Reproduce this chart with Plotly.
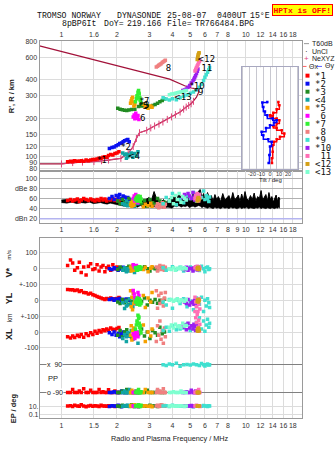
import math
import plotly.graph_objects as go

W, H = 335, 451

# ---------------- header text (segments, left edges in px) ----------------
TITLE1_SEG = ["TROMSO NORWAY", "DYNASONDE", "25-08-07", "0400UT", "15°E"]
TITLE1_X = [35, 115, 165, 215, 248]
TITLE2_SEG = ["8pBP6It", "DoY=", "219.166", "File=", "TR766484.BPG"]
TITLE2_X = [60, 102, 125, 165, 193]
WARN = "HPTx is OFF!"

# ---------------- tick labels ----------------
XT_TOP_V = [1, 1.5, 2, 3, 4, 5, 6, 7, 8, 10, 12, 14, 16, 18]
XT_TOP_T = ["1", "1.6", "2", "3", "4", "5", "6", "7", "8", "10", "12", "14", "16", "18"]
XT_MID_V = [1, 1.5, 2, 3, 4, 5, 6, 7, 8, 9, 10, 12, 14, 16, 18]
XT_MID_T = ["1", "1.6", "2", "3", "4", "5", "6", "7", "8", "9", "10", "12", "14", "16", "18"]
XT_BOT_V = [1, 1.5, 2, 3, 4, 5, 6, 7, 8, 10, 12, 14, 16, 18]
XT_BOT_T = ["1", "1.5", "2", "3", "4", "5", "6", "7", "8", "10", "12", "14", "16", "18"]
YT_H_V = [80, 90, 100, 120, 150, 200, 300, 400, 600, 800]
YT_H_T = ["80", "90", "100", "120", "150", "200", "300", "400", "600", "800"]
YT_DB_V = [20, 40, 60, 80, 100]
YT_DB_T = ["dBn 20", "40", "60", "dBe 80", "100"]
YT_V_V, YT_V_T = [100, 0, -100], ["100", "0", "+-100"]
YT_YL_V, YT_YL_T = [0, -100], ["0", "+-100"]
YT_XL_V, YT_XL_T = [0, -100], ["0", "-100"]
YT_PP_V = [90, -90]
YT_EP_V, YT_EP_T = [10, 0.1], ["10.", "0.1"]
TILT_V, TILT_T = [-20, -10, 0, 10, 20], ["-20", "-10", "0", "10", "20"]

# ---------------- echo clusters ----------------
NAMES = ["*1", "*2", "*3", "<4", "*5", "6", "*7", "8", "*9", "*10", "11", "<12", "<13"]
LEG_NAMES = ["*1", "*2", "*3", "<4", "*5", "\u00a06", "*7", "\u00a08", "*9", "*10", "\u00a011", "<12", "<13"]
COLORS = ["#ff0000", "#0a10f0", "#228b22", "#12a4a4", "#f5a000", "#ff00ff", "#33f033",
          "#f08080", "#40e0d0", "#9b1ff0", "#ff6eb4", "#d4a017", "#7fffd0"]

F1 = [1.08, 1.12, 1.15, 1.18, 1.22, 1.25, 1.28, 1.32, 1.36, 1.40, 1.44, 1.48, 1.52, 1.56, 1.60, 1.64, 1.68, 1.72, 1.76, 1.80, 1.85, 1.90, 1.95, 2.00, 2.05]
H1 = [91, 92, 91, 93, 92, 92, 93, 92, 94, 93, 94, 95, 95, 96, 97, 97, 99, 100, 99, 102, 104, 103, 106, 107, 109]
A1 = [56, 58, 55, 57, 59, 54, 57, 60, 58, 56, 59, 57, 55, 58, 56, 60, 57, 59, 55, 58, 57, 60, 56, 58, 55]
V1 = [20, 55, 35, -10, 5, 40, -25, 10, -40, 15, 30, -5, 0, 25, -15, 10, 20, -20, 5, 15, -10, 25, 0, 10, 5]
YL1 = [68, 66, 67, 62, 65, 55, 60, 50, 48, 40, 45, 35, 30, 25, 20, 15, 10, 5, 12, 8, 15, 5, 10, 12, 18]
XL1 = [-30, -38, -25, -35, -20, -28, -15, -32, -10, -22, -5, -15, 5, -8, 10, 0, 15, 8, 20, 12, 25, 18, 15, 22, 28]
PP1 = [-90, -90, -70, -90, -90, -80, -90, -65, -90, -90, -75, -90, -90, -90, -70, -90, -85, -90, -90, -72, -90, -90, -80, -90, -90]
EP1 = [10, 12, 8, 15, 10, 9, 20, 11, 7, 10, 14, 9, 12, 10, 8, 16, 10, 11, 9, 13, 10, 12, 8, 10, 11]

F2 = [1.82, 1.88, 1.93, 1.98, 2.03, 2.07, 2.12, 2.16, 2.20, 2.25, 2.29, 2.33]
H2 = [116, 118, 119, 122, 124, 127, 128, 131, 133, 135, 136, 131]
A2 = [60, 64, 58, 66, 62, 68, 60, 65, 63, 59, 62, 57]
V2 = [0, -5, 5, 0, -10, 2, -3, 8, 0, -5, 3, 0]
YL2 = [5, 10, 0, 8, 3, 12, 0, 5, -5, 8, 2, 0]
XL2 = [-5, -15, 0, -20, -8, -30, -10, 0, -18, -5, -12, -25]
PP2 = [-90, -90, -85, -90, -90, -90, -80, -90, -90, -90, -90, -85]
EP2 = [8, 12, 10, 9, 15, 10, 7, 11, 13, 9, 10, 12]

F3 = [2.02, 2.08, 2.14, 2.20, 2.26, 2.32, 2.40, 2.50, 2.62, 2.72, 2.82, 2.92, 3.02, 3.12, 3.22, 3.32, 3.42, 3.52, 3.62]
H3 = [240, 236, 233, 231, 230, 232, 234, 236, 248, 250, 251, 252, 246, 252, 257, 262, 270, 276, 284]
A3 = [55, 50, 58, 52, 48, 60, 54, 47, 62, 50, 56, 45, 58, 52, 49, 60, 55, 47, 53]
V3 = [-5, 10, 0, -8, 5, 15, -10, 0, 8, -3, 12, 0, -15, 5, 0, -8, 10, 3, -5]
YL3 = [-10, -20, 5, -15, 0, -25, -5, 10, -20, -8, 15, -30, 0, -12, 5, -18, 0, -10, 8]
XL3 = [-20, 10, -30, 0, 15, -10, -35, 5, -15, 20, -25, 0, -40, 10, -5, -20, 30, -10, 0]
PP3 = [-90, -90, -80, -90, -70, -90, -90, -90, -85, -90, -90, -75, -90, -90, -90, -80, -90, -90, -90]
EP3 = [10, 8, 15, 11, 9, 12, 20, 10, 7, 13, 10, 9, 16, 10, 12, 8, 11, 14, 10]

F4 = [2.15, 2.20, 2.25, 2.29, 2.34, 2.39, 2.44, 2.49, 2.55, 2.60, 2.25]
H4 = [107, 104, 105, 100, 103, 107, 99, 106, 101, 109, 97]
A4 = [50, 48, 55, 46, 52, 49, 57, 45, 53, 50, 47]
V4 = [-10, 5, -20, 0, -15, 10, -5, -25, 0, 8, -12]
YL4 = [-15, -52, -5, -30, 10, -20, -40, 0, -10, -25, -35]
XL4 = [-40, -15, -60, -5, -25, 10, -45, -20, 0, -70, -30]
PP4 = [-90, -80, -90, -90, -70, -90, -90, -85, -90, -90, -90]
EP4 = [9, 12, 10, 15, 8, 10, 11, 7, 12, 10, 14]

F5 = [2.37, 2.39, 2.41, 2.43, 2.45, 2.47, 2.50, 2.78, 2.85, 2.95, 3.05, 3.10]
H5 = [262, 275, 285, 293, 268, 250, 255, 258, 246, 240, 250, 244]
A5 = [48, 52, 45, 55, 50, 47, 53, 44, 49, 46, 51, 45]
V5 = [10, -15, 5, 20, -10, 0, 15, -5, 8, -20, 3, 12]
YL5 = [60, -40, 20, -60, 45, -20, 0, 30, -45, 15, -10, 50]
XL5 = [-20, 40, -50, 10, -35, 25, -10, 45, -60, 0, -25, 20]
PP5 = [-90, -90, -75, -90, -90, -85, -90, -90, -70, -90, -90, -90]
EP5 = [12, 9, 15, 10, 8, 11, 20, 10, 13, 9, 11, 7]

F6 = [2.45, 2.48, 2.50, 2.53, 2.55, 2.58, 2.60, 2.63]
H6 = [205, 212, 198, 219, 207, 200, 210, 196]
A6 = [60, 65, 55, 68, 58, 62, 52, 57]
V6 = [25, 10, 5, 15, 20, 8, 12, 0]
YL6 = [62, 40, 20, 0, -21, 10, 50, 30]
XL6 = [-10, -20, -40, -5, -25, -15, -30, 0]
PP6 = [-90, -90, -90, -80, -90, -90, -90, -90]
EP6 = [10, 12, 9, 11, 10, 8, 13, 10]

F7 = [2.52, 2.55, 2.57, 2.60, 2.62, 2.64, 2.66, 2.68, 2.70, 2.58, 2.63, 2.67]
H7 = [270, 285, 300, 320, 330, 310, 290, 275, 262, 295, 315, 280]
A7 = [58, 62, 55, 65, 60, 57, 63, 54, 59, 61, 56, 64]
V7 = [5, 0, -10, 8, -5, 12, 0, -3, 6, -8, 2, 10]
YL7 = [-10, 5, -25, 0, -15, 10, -30, -5, -20, 15, -8, 0]
XL7 = [20, 45, 70, 106, 85, 55, 30, 10, -6, 60, 95, 40]
PP7 = [-90, -80, -90, -90, -70, -90, -90, -90, -85, -90, -90, -90]
EP7 = [10, 14, 9, 12, 20, 10, 11, 8, 15, 10, 13, 9]

F8 = [3.27, 3.32, 3.37, 3.42, 3.47, 3.52, 3.57, 3.62, 3.66]
H8 = [506, 512, 522, 530, 536, 548, 556, 563, 570]
A8 = [45, 50, 42, 48, 44, 52, 46, 43, 49]
V8 = [10, -15, 5, 20, -5, 0, 15, -10, 8]
YL8 = [60, -50, 30, -20, 45, 0, -35, 15, 50]
XL8 = [-60, 40, -20, 70, -45, 10, -70, 25, -30]
PP8 = [-90, -70, -90, -80, -90, -90, -65, -90, -90]
EP8 = [10, 15, 8, 12, 20, 9, 11, 14, 10]

F9 = [3.56, 3.70, 3.85, 4.00, 4.20, 4.40, 4.60, 4.80, 5.00, 5.20, 5.40, 5.60, 5.75, 5.90, 6.00, 6.10, 6.20, 6.30, 6.36]
H9 = [290, 283, 278, 285, 280, 290, 298, 305, 315, 322, 335, 350, 370, 396, 420, 440, 459, 480, 502]
A9 = [50, 62, 55, 70, 48, 58, 52, 65, 60, 72, 55, 68, 62, 75, 58, 66, 60, 54, 63]
V9 = [5, -10, 0, 12, -5, 8, -15, 0, 10, -8, 3, -12, 15, 0, -20, 5, 10, -5, 0]
YL9 = [-10, -30, 5, -50, 0, -20, 10, -40, -5, -60, 15, -25, 20, -70, 0, -35, 10, -15, -45]
XL9 = [10, 30, 5, 40, 15, 20, 25, 50, 10, 35, 60, 90, 20, 70, 5, 45, 80, 30, 55]
PP9 = [90, 85, 95, 90, 100, 80, 90, 92, 88, 95, 90, 85, 98, 90, 82, 90, 95, 88, 90]
EP9 = [10, 12, 8, 15, 10, 9, 11, 13, 10, 7, 12, 10, 9, 14, 10, 11, 8, 12, 10]

F10 = [4.55, 4.65, 4.76, 4.86, 4.96, 5.06, 5.17, 5.23, 5.28, 5.34, 5.40, 5.46, 5.50]
H10 = [330, 334, 340, 350, 362, 378, 395, 405, 419, 432, 450, 468, 487]
A10 = [62, 68, 58, 70, 65, 60, 72, 63, 57, 67, 61, 69, 64]
V10 = [0, -5, 8, -10, 3, 0, -15, 5, -3, 10, 0, -8, 2]
YL10 = [0, -10, -20, 5, -30, -15, -5, -25, 0, -12, -35, -8, -20]
XL10 = [30, 45, 15, 55, 25, 40, 20, 50, 35, 10, 45, 30, 25]
PP10 = [-90, -90, -85, -90, -90, -75, -90, -90, -90, -80, -90, -90, -90]
EP10 = [10, 12, 9, 11, 10, 14, 8, 10, 12, 10, 9, 11, 13]

F11 = [5.30, 5.35, 5.40, 5.45, 5.50, 5.55, 5.60, 5.63]
H11 = [470, 485, 500, 515, 530, 545, 560, 570]
A11 = [60, 66, 58, 70, 63, 55, 68, 61]
V11 = [5, 10, 0, 15, 8, -5, 12, 3]
YL11 = [20, -10, -40, 0, -70, -25, 10, -55]
XL11 = [130, 90, 60, 110, 30, 75, 5, 50]
PP11 = [-90, -90, -80, -90, -90, -70, -90, -90]
EP11 = [10, 12, 15, 9, 11, 10, 13, 8]

F12 = [5.45, 5.48, 5.50, 5.52, 5.55, 5.58]
H12 = [580, 600, 615, 630, 645, 655]
A12 = [55, 60, 58, 62, 57, 59]
V12 = [0, 5, -3, 8, 2, -5]
YL12 = [-5, 0, -10, 5, -8, 0]
XL12 = [10, 20, 5, 15, 25, 10]
PP12 = [-90, -90, -90, -90, -90, -90]
EP12 = [10, 11, 9, 10, 12, 10]

F13 = [3.85, 3.95, 4.05, 4.15, 4.25, 4.35, 4.45, 4.55, 4.65, 4.75]
H13 = [306, 310, 312, 315, 318, 320, 322, 325, 327, 330]
A13 = [55, 62, 50, 66, 58, 70, 53, 64, 60, 57]
V13 = [0, -5, 5, -10, 3, 0, 8, -3, 5, 0]
YL13 = [0, 5, -5, 0, 10, -8, 3, 0, -5, 5]
XL13 = [30, 45, 25, 50, 35, 40, 28, 55, 38, 42]
PP13 = [-90, -90, -85, -90, -90, -90, -80, -90, -90, -90]
EP13 = [10, 12, 10, 9, 11, 10, 13, 10, 8, 10]

# trace labels on the ionogram
LBL_T = ["*1", "*2", "<4", "6", "*7", "*3", "*5", "8", "*10", "*9", "<13", "11", "<12"]
LBL_F = [1.66, 2.24, 2.47, 2.76, 2.82, 2.82, 2.78, 3.80, 5.45, 5.55, 4.55, 6.15, 6.10]
LBL_H = [92, 117, 99, 199, 270, 252, 246, 487, 355, 315, 288, 490, 580]

# electron-density profile and NeXYZ points
PROF_F = [0.76, 1.0, 1.15, 1.5, 1.8, 2.1, 2.3, 2.45, 2.55, 2.65, 2.9, 3.2, 3.55, 3.95, 4.4, 4.75, 5.05, 5.4, 5.55, 5.52, 5.4, 5.07, 4.66, 3.86, 2.5, 1.5, 0.76]
PROF_H = [87.7, 87.7, 89.8, 91.4, 94, 97, 106, 120, 139, 154, 161, 174, 187, 205, 224, 245, 260, 293, 320, 335, 340, 346, 360, 406, 477, 576, 740]
NE_F = [1.0, 1.15, 1.3, 1.5, 1.65, 1.8, 2.1, 2.3, 2.45, 2.55, 2.65, 2.9, 3.05, 3.2, 3.38, 3.55, 3.75, 3.95, 4.15, 4.4, 4.6, 4.75, 4.9, 5.05, 5.2]
NE_H = [87.7, 89.8, 90.5, 91.4, 92.8, 94, 97, 106, 120, 139, 154, 161, 168, 174, 180, 187, 196, 205, 214, 224, 236, 245, 252, 260, 272]

# tilt profiles (inset)
TX_DEG = [9.3, 10.4, 7.4, 3.7, 0.0, 3.0, 7.4, 10.4, 7.4, 3.7, 7.4, 13.0, 15.9, 11.1, 7.4, 4.4, 3.0, 3.0, 2.2, 2.2]
TX_H = [268, 253, 235, 221, 211, 205, 199, 193, 182, 174, 168, 161, 152, 143, 137, 131, 123, 109, 97, 89]
TY_DEG = [-3.0, -8.5, -7.4, -5.6, -3.0, 3.0, 7.4, 4.4, 0.0, -4.4, -9.3, -7.4, -1.9, 1.9, 0.0, -0.7, -1.5]
TY_H = [268, 266, 245, 226, 211, 199, 193, 185, 176, 168, 157, 147, 137, 131, 120, 103, 89]

# echo amplitude band (black)
BF = [1.00, 1.07, 1.14, 1.21, 1.28, 1.35, 1.42, 1.49, 1.56, 1.63, 1.70, 1.77, 1.84, 1.91, 1.98,
      2.08, 2.18, 2.28, 2.38, 2.48, 2.58, 2.68, 2.78, 2.88, 2.98, 3.08, 3.18, 3.28, 3.38, 3.48,
      3.58, 3.68, 3.78, 3.88, 3.98,
      4.10, 4.22, 4.34, 4.46, 4.58, 4.70, 4.82, 4.94, 5.06, 5.18, 5.30, 5.42, 5.54, 5.66, 5.78,
      5.90, 6.05, 6.20, 6.35, 6.50, 6.65, 6.80, 6.95, 7.10, 7.30, 7.50, 7.70, 7.90, 8.10, 8.30,
      8.50, 8.70, 8.90, 9.10, 9.30, 9.50, 9.70, 9.90, 10.1, 10.35, 10.6, 10.85, 11.1, 11.35, 11.6,
      11.85, 12.1, 12.35, 12.6, 12.85, 13.1, 13.35, 13.6, 13.85, 14.1, 14.35, 14.6, 14.85, 15.1, 15.3]
BU = [57, 58, 56, 59, 57, 58, 55, 59, 57, 56, 58, 55, 57, 56, 58,
      55, 57, 54, 58, 52, 56, 60, 55, 58, 62, 57, 74, 60, 56, 54,
      58, 52, 56, 60, 57,
      65, 58, 70, 60, 66, 57, 68, 62, 59, 71, 63, 58, 75, 78, 62,
      70, 56, 72, 60, 66, 55, 68, 58, 64, 54, 70, 57, 62, 66, 55,
      72, 58, 61, 67, 54, 69, 57, 74, 60, 56, 66, 58, 71, 55, 64,
      60, 76, 57, 62, 68, 55, 72, 58, 64, 53, 60, 67, 55, 63, 58]
BL = [52, 51, 53, 50, 52, 51, 53, 50, 51, 52, 50, 49, 51, 50, 48,
      47, 45, 46, 44, 45, 43, 46, 44, 42, 45, 43, 44, 42, 44, 43,
      41, 42, 43, 42, 41,
      45, 44, 46, 43, 45, 44, 46, 42, 44, 45, 43, 44, 46, 45, 42,
      44, 43, 41, 43, 42, 40, 43, 41, 42, 40, 43, 41, 42, 40, 43,
      41, 42, 40, 41, 43, 40, 42, 41, 43, 40, 42, 41, 40, 42, 41,
      43, 40, 42, 41, 40, 42, 41, 40, 42, 41, 40, 42, 41, 43, 41]
NOISE_DB = 20

CLUSTERS = [
    (F1, H1, A1, V1, YL1, XL1, PP1, EP1), (F2, H2, A2, V2, YL2, XL2, PP2, EP2),
    (F3, H3, A3, V3, YL3, XL3, PP3, EP3), (F4, H4, A4, V4, YL4, XL4, PP4, EP4),
    (F5, H5, A5, V5, YL5, XL5, PP5, EP5), (F6, H6, A6, V6, YL6, XL6, PP6, EP6),
    (F7, H7, A7, V7, YL7, XL7, PP7, EP7), (F8, H8, A8, V8, YL8, XL8, PP8, EP8),
    (F9, H9, A9, V9, YL9, XL9, PP9, EP9), (F10, H10, A10, V10, YL10, XL10, PP10, EP10),
    (F11, H11, A11, V11, YL11, XL11, PP11, EP11), (F12, H12, A12, V12, YL12, XL12, PP12, EP12),
    (F13, H13, A13, V13, YL13, XL13, PP13, EP13),
]

# ---------------- geometry helpers (pixels -> paper) ----------------
def px_x(p):
    return p / W


def px_y(p):
    return 1 - p / H


FR_L, FR_R = 39.5, 301.7
X_DOM = [px_x(FR_L), px_x(FR_R)]
GRID = "#dcdcdc"
FRAME = "#9a9a9a"
TICKF = dict(family="Liberation Sans", size=7, color="#333")

fig = go.Figure()

# --- ionogram panel ---
fig.add_trace(go.Scatter(x=PROF_F, y=PROF_H, mode="lines", line=dict(color="#a3123a", width=1.2),
                         xaxis="x", yaxis="y", hoverinfo="skip"))
fig.add_trace(go.Scatter(x=NE_F, y=NE_H, mode="lines+markers", line=dict(color="#e0457b", width=1),
                         marker=dict(symbol="line-ns-open", size=5, line=dict(color="#e0457b", width=1)),
                         xaxis="x", yaxis="y", hoverinfo="skip"))

# --- amplitude band ---
fig.add_trace(go.Scatter(x=BF, y=BL, mode="lines", line=dict(color="black", width=0.5),
                         xaxis="x2", yaxis="y2", hoverinfo="skip"))
fig.add_trace(go.Scatter(x=BF, y=BU, mode="lines", line=dict(color="black", width=1),
                         fill="tonexty", fillcolor="black", xaxis="x2", yaxis="y2", hoverinfo="skip"))

for i, (f, h, a, v, yl, xl, pp, ep) in enumerate(CLUSTERS):
    mk = dict(symbol="square", size=3.5, color=COLORS[i], line=dict(width=0))
    for yy, ax in ((h, ("x", "y")), (a, ("x2", "y2")), (v, ("x3", "y3")), (yl, ("x3", "y4")),
                   (xl, ("x3", "y5")), (pp, ("x3", "y6")), (ep, ("x3", "y7"))):
        fig.add_trace(go.Scatter(x=f, y=yy, mode="markers", marker=mk,
                                 xaxis=ax[0], yaxis=ax[1], hoverinfo="skip"))

fig.add_trace(go.Scatter(x=LBL_F, y=LBL_H, mode="text", text=LBL_T,
                         textfont=dict(family="DejaVu Sans", size=8.5, color="black"),
                         xaxis="x", yaxis="y", hoverinfo="skip"))

# --- tilt inset ---
fig.add_trace(go.Scatter(x=TX_DEG, y=TX_H, mode="lines+markers", line=dict(color="#ff0000", width=1.5, shape="vh"),
                         marker=dict(symbol="square", size=2.5, color="#ff0000"),
                         xaxis="x4", yaxis="y8", hoverinfo="skip"))
fig.add_trace(go.Scatter(x=TY_DEG, y=TY_H, mode="lines+markers", line=dict(color="#0000ff", width=1.5, shape="vh"),
                         marker=dict(symbol="square", size=2.5, color="#0000ff"),
                         xaxis="x4", yaxis="y8", hoverinfo="skip"))

logr = [math.log10(0.76), math.log10(20.1)]
xcommon = dict(type="log", range=logr, domain=X_DOM, showgrid=True, gridcolor=GRID, gridwidth=1,
               showline=True, linecolor=FRAME, mirror=True, ticks="", tickfont=TICKF,
               zeroline=False, tickmode="array", tickangle=0)
ycommon = dict(showgrid=True, gridcolor=GRID, showline=True, linecolor=FRAME, mirror=True,
               ticks="", tickfont=TICKF, zeroline=False, tickmode="array", tickangle=0)

LOW_DOM = [px_y(419), px_y(237)]
fig.update_layout(
    width=W, height=H, autosize=False, showlegend=False,
    margin=dict(l=0, r=0, t=0, b=0), paper_bgcolor="white", plot_bgcolor="white",
    xaxis=dict(xcommon, anchor="y", side="top", tickvals=XT_TOP_V, ticktext=XT_TOP_T),
    yaxis=dict(ycommon, type="log", domain=[px_y(170), px_y(38)], range=[1.8833, 2.9105],
               anchor="x", tickvals=YT_H_V, ticktext=YT_H_T),
    xaxis2=dict(xcommon, anchor="y2", side="bottom", tickvals=XT_MID_V, ticktext=XT_MID_T),
    yaxis2=dict(ycommon, domain=[px_y(222), px_y(170)], range=[11.55, 113.76], anchor="x2",
                tickvals=YT_DB_V, ticktext=YT_DB_T, gridcolor="#b0b0b0"),
    xaxis3=dict(xcommon, anchor="y3", side="bottom", tickvals=XT_BOT_V, ticktext=XT_BOT_T),
    yaxis3=dict(ycommon, domain=LOW_DOM, range=[-943.75, 193.75], anchor="x3",
                tickvals=YT_V_V, ticktext=YT_V_T),
    yaxis4=dict(ycommon, overlaying="y3", anchor="x3", side="left", range=[-743.75, 393.75],
                tickvals=YT_YL_V, ticktext=YT_YL_T, showline=False),
    yaxis5=dict(ycommon, overlaying="y3", anchor="x3", side="left", range=[-543.75, 593.75],
                tickvals=YT_XL_V, ticktext=YT_XL_T, showline=False),
    yaxis6=dict(ycommon, overlaying="y3", anchor="x3", side="left", range=[-257.1, 912.9],
                tickvals=YT_PP_V, showticklabels=False, gridcolor="#808080", showline=False),
    yaxis7=dict(ycommon, overlaying="y3", anchor="x3", side="left", type="log", range=[-1.964, 41.89],
                tickvals=YT_EP_V, ticktext=YT_EP_T, showline=False),
    xaxis4=dict(domain=[px_x(241.7), px_x(298.3)], range=[-31.4, 31.4], anchor="y8",
                tickmode="array", tickvals=TILT_V, ticktext=TILT_T, showgrid=False, tickangle=0,
                minor=dict(dtick=7.5, tick0=0, showgrid=True, gridcolor="#c8c8d0"),
                showline=True, linecolor="#a8a8c0", mirror=True, ticks="",
                tickfont=dict(family="Liberation Sans", size=5.5, color="#333"), zeroline=False),
    yaxis8=dict(type="log", domain=[px_y(167), px_y(65)], range=[1.9066, 2.7004], anchor="x4",
                showticklabels=False, showgrid=False, showline=True, linecolor="#a8a8c0",
                mirror=True, ticks="", zeroline=False),
)

shapes = [dict(type="line", xref="paper", yref="y2", x0=X_DOM[0], x1=X_DOM[1], y0=NOISE_DB, y1=NOISE_DB,
               line=dict(color="#b4b4f0", width=1.5))]
ann = []


def txt(x, y, s, size=7, color="#222", family="Liberation Sans", xanchor="center", angle=0, bg=None, bold=False):
    d = dict(x=px_x(x), y=px_y(y), xref="paper", yref="paper", text=("<b>%s</b>" % s) if bold else s,
             showarrow=False, xanchor=xanchor, yanchor="middle", textangle=angle,
             font=dict(family=family, size=size, color=color))
    if bg:
        d.update(bgcolor=bg, borderpad=0)
    ann.append(d)


for s, x0 in zip(TITLE1_SEG, TITLE1_X):
    txt(x0, 12.5, s, size=8.2, color="#111", family="Liberation Mono", xanchor="left")
for s, x0 in zip(TITLE2_SEG, TITLE2_X):
    txt(x0, 20.5, s, size=8.2, color="#111", family="Liberation Mono", xanchor="left")
ann.append(dict(x=px_x(302.5), y=px_y(7.5), xref="paper", yref="paper", text="<b>%s</b>" % WARN,
                showarrow=False, xanchor="center", yanchor="middle",
                font=dict(family="Liberation Mono", size=8, color="#ff0000"),
                bgcolor="#ffff00", bordercolor="#ff0000", borderwidth=1, borderpad=0.5))

txt(11, 94, "R', R / km", size=7.5, angle=-90, bold=True)
txt(9, 272, "V*", size=9, angle=-90, bold=True)
txt(9, 254, "m/s", size=6, angle=-90)
txt(9, 298, "YL", size=9, angle=-90, bold=True)
txt(9, 318, "km", size=6.5, angle=-90)
txt(9, 334, "XL", size=9, angle=-90, bold=True)
txt(13, 409, "EP / deg", size=7.5, angle=-90, bold=True)
txt(46, 379, "PP", size=7.5, xanchor="left")
txt(46, 365, "x  90", size=7, xanchor="left", bg="white")
txt(46, 393, "o -90", size=7, xanchor="left", bg="white")
txt(170, 439, "Radio and Plasma Frequency / MHz", size=7.3)
txt(270, 178.5, "Tilt / deg", size=6)

# legend
LX = 304
shapes.append(dict(type="line", xref="paper", yref="paper", x0=px_x(LX), x1=px_x(LX + 5),
                   y0=px_y(41), y1=px_y(41), line=dict(color="#999", width=1)))
txt(LX + 6, 41, "T60dB", size=7, xanchor="left")
txt(LX + 2.5, 48.5, "·", size=8, color="black")
txt(LX + 6, 48.5, "UnCl", size=7, xanchor="left")
txt(LX + 2.5, 56, "+", size=8, color="#e0457b")
txt(LX + 6, 56, "NeXYZ", size=7, xanchor="left")
shapes.append(dict(type="line", xref="paper", yref="paper", x0=px_x(LX - 1), x1=px_x(LX + 2.5),
                   y0=px_y(64), y1=px_y(64), line=dict(color="#ff6060", width=1)))
txt(LX + 2.5, 64, "Θx", size=7, xanchor="left")
shapes.append(dict(type="line", xref="paper", yref="paper", x0=px_x(LX + 13), x1=px_x(LX + 18),
                   y0=px_y(64), y1=px_y(64), line=dict(color="#6060ff", width=1)))
txt(LX + 19, 64, "Θy", size=7, xanchor="left")
for i, nm in enumerate(LEG_NAMES):
    yc = 73.3 + 8.1 * i
    shapes.append(dict(type="rect", xref="paper", yref="paper", x0=px_x(305.5), x1=px_x(309.5),
                       y0=px_y(yc + 2), y1=px_y(yc - 2), fillcolor=COLORS[i], line=dict(width=0)))
    txt(312.5, yc, nm, size=9, color="#111", family="DejaVu Sans Mono", xanchor="left")

fig.update_layout(shapes=shapes, annotations=ann)
fig.write_html("out.html")
